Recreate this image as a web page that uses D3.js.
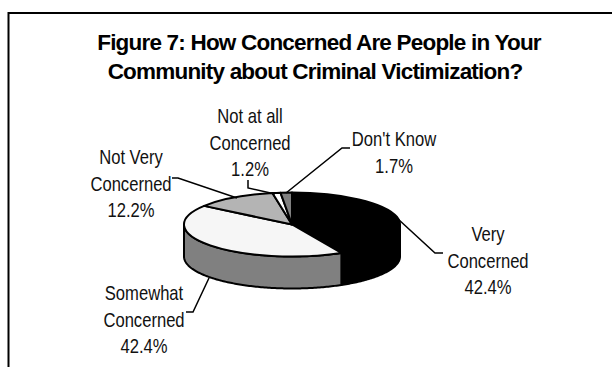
<!DOCTYPE html>
<html>
<head>
<meta charset="utf-8">
<script src="https://cdnjs.cloudflare.com/ajax/libs/d3/7.8.5/d3.min.js"></script>
<style>
  html, body { margin: 0; padding: 0; background: #fff; }
  svg { display: block; }
  .title { font: bold 22.5px "Liberation Sans", Arial, sans-serif; letter-spacing: -0.8px; fill: #000; text-anchor: middle; }
  .label { font: 20.5px "Liberation Sans", Arial, sans-serif; fill: #111; text-anchor: middle; }
</style>
</head>
<body>
<svg id="chart" width="612" height="367"></svg>
<script>
// Survey shares, clockwise from twelve o'clock
const categories = ["Very Concerned", "Somewhat Concerned", "Not Very Concerned", "Not at all Concerned", "Don't Know"];
const shares = [42.4, 42.4, 12.2, 1.2, 1.7];
const shareLabels = ["42.4%", "42.4%", "12.2%", "1.2%", "1.7%"];
const topColors = ["#000000", "#f6f6f6", "#b4b4b4", "#ffffff", "#808080"];
const sideColors = ["#000000", "#808080", "#8a8a8a", "#cccccc", "#555555"];
const titleLines = ["Figure 7: How Concerned Are People in Your", "Community about Criminal Victimization?"];
const labelLines = [
  ["Very", "Concerned"],
  ["Somewhat", "Concerned"],
  ["Not Very", "Concerned"],
  ["Not at all", "Concerned"],
  ["Don't Know"]
];

// Label placement and leader polylines, in slice order
const labelLayout = [
  { x: 488, y: 241 },
  { x: 144, y: 300 },
  { x: 131, y: 164 },
  { x: 250, y: 123 },
  { x: 394, y: 146 }
];
const leaders = [
  [[398, 219], [435, 253], [443, 253]],
  [[209, 278], [193, 312], [186, 312]],
  [[237, 198], [178, 178], [172, 178]],
  [[275, 194], [248, 188], [248, 180]],
  [[286, 193], [342, 148], [350, 148]]
];

const svg = d3.select("#chart");
const lineGap = 26.5;
const narrow = 0.81;

// Frame runs off the right and bottom of the page
svg.append("path")
  .attr("d", d3.line()([[8.5, 367], [8.5, 13], [612, 13]]))
  .attr("fill", "none").attr("stroke", "#000").attr("stroke-width", 2);

svg.selectAll("text.title").data(titleLines).join("text")
  .attr("class", "title")
  .attr("x", (d, i) => i ? 315 : 319)
  .attr("y", (d, i) => 50 + i * 29)
  .text(d => d);

// Pie geometry: a flat disc squashed to an ellipse, with a wall below it
const cx = 292, cy = 224.5, rx = 108, ry = 32, depth = 32;
const arcs = d3.pie().sort(null).value(d => d)(shares);
const HALF_PI = Math.PI / 2, PI_3_2 = 3 * Math.PI / 2;

const edge = (a, dy) => [cx + rx * Math.sin(a), cy - ry * Math.cos(a) + dy];
const angleSamples = (a0, a1) => {
  const n = Math.max(2, Math.ceil((a1 - a0) * 60));
  return d3.range(n + 1).map(i => a0 + (a1 - a0) * i / n);
};

// Walls for the part of each slice on the near side of the disc
const walls = svg.append("g");
arcs.forEach((arc, i) => {
  const a0 = Math.max(arc.startAngle, HALF_PI);
  const a1 = Math.min(arc.endAngle, PI_3_2);
  if (a1 <= a0) return;
  const samples = angleSamples(a0, a1);
  const outline = samples.map(a => edge(a, 0))
    .concat(samples.slice().reverse().map(a => edge(a, depth)));
  walls.append("path")
    .attr("d", d3.line()(outline) + "Z")
    .attr("fill", sideColors[i])
    .attr("stroke", "#000").attr("stroke-width", 2).attr("stroke-linejoin", "round");
});

// Top face
const arcGen = d3.arc().innerRadius(0).outerRadius(rx);
svg.append("g")
  .attr("transform", `translate(${cx},${cy}) scale(1,${ry / rx})`)
  .selectAll("path").data(arcs).join("path")
  .attr("d", arcGen)
  .attr("fill", (d, i) => topColors[i])
  .attr("stroke", "#000").attr("stroke-width", 2)
  .attr("stroke-linejoin", "round")
  .attr("vector-effect", "non-scaling-stroke");

// Leader lines
svg.append("g").selectAll("path").data(leaders).join("path")
  .attr("d", d => d3.line()(d))
  .attr("fill", "none").attr("stroke", "#000").attr("stroke-width", 1.5);

// Category and share labels, horizontally condensed
categories.forEach((name, i) => {
  const rows = labelLines[i].concat(shareLabels[i]);
  svg.selectAll(null).data(rows).join("text")
    .attr("class", "label")
    .attr("transform", (d, r) =>
      `translate(${labelLayout[i].x},${labelLayout[i].y + r * lineGap}) scale(${narrow},1)`)
    .text(d => d);
});
</script>
</body>
</html>
